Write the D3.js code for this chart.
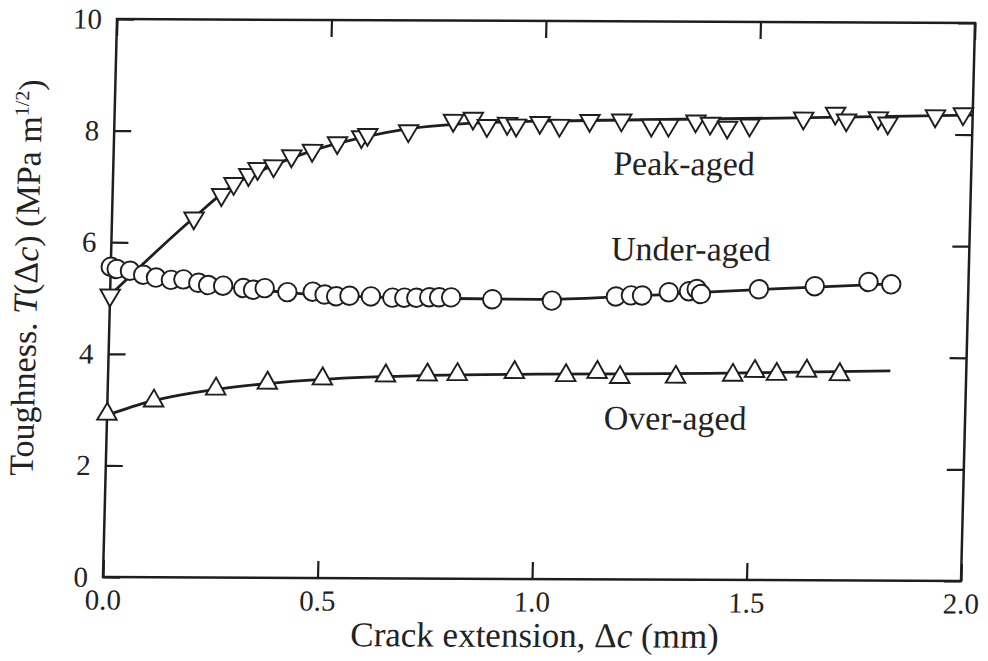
<!DOCTYPE html>
<html>
<head>
<meta charset="utf-8">
<script src="https://cdn.jsdelivr.net/npm/d3@7"></script>
<style>
  body { margin: 0; background: #fff; }
  svg { display: block; }
  text { font-family: "Liberation Serif", "DejaVu Serif", serif; fill: #222; }
</style>
</head>
<body>
<script>
// data (crack extension in mm, toughness in MPa m^1/2)
var peakX = [0.0, 0.191, 0.254, 0.282, 0.316, 0.337, 0.374, 0.415, 0.463, 0.521, 0.577, 0.591, 0.686, 0.790, 0.836, 0.869, 0.916, 0.937, 0.992, 1.038, 1.108, 1.182, 1.252, 1.292, 1.355, 1.389, 1.429, 1.481, 1.606, 1.680, 1.706, 1.780, 1.803, 1.913, 1.978];
var peakY = [5.05, 6.44, 6.86, 7.06, 7.22, 7.33, 7.38, 7.56, 7.66, 7.80, 7.91, 7.95, 8.02, 8.21, 8.25, 8.12, 8.16, 8.13, 8.18, 8.13, 8.22, 8.23, 8.14, 8.14, 8.22, 8.18, 8.11, 8.15, 8.28, 8.37, 8.25, 8.29, 8.20, 8.33, 8.37];

var underX = [0.0, 0.014, 0.045, 0.076, 0.106, 0.141, 0.170, 0.205, 0.228, 0.263, 0.310, 0.333, 0.360, 0.413, 0.472, 0.500, 0.527, 0.558, 0.608, 0.658, 0.686, 0.714, 0.744, 0.767, 0.795, 0.891, 1.030, 1.179, 1.214, 1.240, 1.302, 1.349, 1.367, 1.377, 1.512, 1.642, 1.767, 1.820];
var underY = [5.56, 5.52, 5.49, 5.42, 5.37, 5.33, 5.34, 5.28, 5.24, 5.23, 5.19, 5.16, 5.19, 5.12, 5.13, 5.08, 5.05, 5.06, 5.05, 5.03, 5.03, 5.03, 5.04, 5.04, 5.04, 5.01, 4.99, 5.07, 5.09, 5.09, 5.15, 5.17, 5.21, 5.12, 5.21, 5.27, 5.35, 5.31];

var overX = [0.0, 0.108, 0.252, 0.372, 0.500, 0.647, 0.744, 0.814, 0.947, 1.067, 1.140, 1.193, 1.323, 1.456, 1.507, 1.558, 1.628, 1.705];
var overY = [2.92, 3.16, 3.38, 3.49, 3.57, 3.63, 3.65, 3.66, 3.70, 3.65, 3.71, 3.62, 3.63, 3.67, 3.74, 3.69, 3.75, 3.69];

// smooth fitted curves drawn through the points
var peakFitX = [0.0, 0.19, 0.28, 0.37, 0.46, 0.58, 0.68, 0.85, 1.1, 1.55, 2.0];
var peakFitY = [5.05, 6.44, 7.03, 7.38, 7.65, 7.90, 8.05, 8.17, 8.22, 8.28, 8.35];
var underFitX = [0.0, 0.1, 0.2, 0.3, 0.4, 0.5, 0.6, 0.8, 1.0, 1.2, 1.4, 1.6, 1.82];
var underFitY = [5.55, 5.38, 5.27, 5.19, 5.12, 5.07, 5.04, 5.02, 5.01, 5.07, 5.16, 5.24, 5.32];
var overFitX = [0.0, 0.1, 0.25, 0.37, 0.5, 0.75, 1.0, 1.4, 1.823];
var overFitY = [2.90, 3.15, 3.37, 3.48, 3.56, 3.64, 3.67, 3.70, 3.76];

var xTicks = [0, 0.5, 1.0, 1.5, 2.0];
var yTicks = [0, 2, 4, 6, 8, 10];
var seriesNames = ["Peak-aged", "Under-aged", "Over-aged"];

var svgWidth = 988, svgHeight = 661;
var W = 858, H = 558;
var ink = "#1e1e1e";

var svg = d3.select("body").append("svg")
  .attr("width", svgWidth)
  .attr("height", svgHeight);
svg.append("rect").attr("width", svgWidth).attr("height", svgHeight).attr("fill", "#fff");

// the scan is slightly sheared, so the whole plot lives in one skewed group
var plot = svg.append("g")
  .attr("transform", "matrix(1," + (4 / 860) + "," + (-14 / 558) + ",1,117,19)");

var x = d3.scaleLinear().domain([0, 2]).range([0, W]);
var y = d3.scaleLinear().domain([0, 10]).range([H, 0]);

function styleAxis(g) {
  g.select(".domain").remove();
  g.selectAll(".tick line").attr("stroke", ink).attr("stroke-width", 2.2);
  g.selectAll("text").attr("font-size", "29px").attr("fill", ink);
}

plot.append("g")
  .attr("transform", "translate(0," + H + ")")
  .call(d3.axisBottom(x).tickValues(xTicks).tickSize(-17).tickPadding(12).tickFormat(d3.format(".1f")))
  .call(styleAxis);
plot.append("g")
  .call(d3.axisTop(x).tickValues(xTicks).tickSize(-17).tickFormat(""))
  .call(styleAxis);
plot.append("g")
  .call(d3.axisLeft(y).tickValues(yTicks).tickSize(-17).tickPadding(15).tickFormat(d3.format("d")))
  .call(styleAxis);
plot.append("g")
  .attr("transform", "translate(" + W + ",0)")
  .call(d3.axisRight(y).tickValues(yTicks).tickSize(-17).tickFormat(""))
  .call(styleAxis);

plot.append("rect")
  .attr("width", W).attr("height", H)
  .attr("fill", "none").attr("stroke", ink).attr("stroke-width", 2.5);

// fitted lines
var line = d3.line()
  .x(function(d) { return x(d[0]); })
  .y(function(d) { return y(d[1]); })
  .curve(d3.curveMonotoneX);

var fits = [[peakFitX, peakFitY], [underFitX, underFitY], [overFitX, overFitY]];
fits.forEach(function(f) {
  plot.append("path")
    .attr("d", line(d3.zip(f[0], f[1])))
    .attr("fill", "none")
    .attr("stroke", ink)
    .attr("stroke-width", 2.8);
});

// markers
var tri = d3.symbol().type(d3.symbolTriangle).size(165);
var circ = d3.symbol().type(d3.symbolCircle).size(270);

function drawMarkers(xs, ys, sym, rot) {
  plot.append("g").selectAll("path")
    .data(d3.zip(xs, ys))
    .enter().append("path")
    .attr("d", sym)
    .attr("transform", function(d) {
      return "translate(" + x(d[0]) + "," + y(d[1]) + ")" + (rot ? " rotate(180)" : "");
    })
    .attr("fill", "#fff")
    .attr("stroke", ink)
    .attr("stroke-width", 1.9);
}
drawMarkers(peakX, peakY, tri, true);
drawMarkers(underX, underY, circ, false);
drawMarkers(overX, overY, tri, false);

// series labels
var labelAt = [[1.165, 7.25], [1.165, 5.72], [1.158, 2.69]];
plot.append("g").selectAll("text")
  .data(seriesNames)
  .enter().append("text")
  .attr("x", function(d, i) { return x(labelAt[i][0]); })
  .attr("y", function(d, i) { return y(labelAt[i][1]); })
  .attr("font-size", "34px")
  .text(function(d) { return d; });

// axis titles
var xt = plot.append("text")
  .attr("x", W / 2 + 4)
  .attr("y", H + 68)
  .attr("text-anchor", "middle")
  .attr("font-size", "35px");
xt.append("tspan").text("Crack extension, \u0394");
xt.append("tspan").attr("font-style", "italic").text("c");
xt.append("tspan").text(" (mm)");

var yt = plot.append("text")
  .attr("transform", "translate(-73," + (H / 2 - 20) + ") rotate(-90)")
  .attr("text-anchor", "middle")
  .attr("font-size", "34px");
yt.append("tspan").text("Toughness. ");
yt.append("tspan").attr("font-style", "italic").text("T");
yt.append("tspan").text("(\u0394");
yt.append("tspan").attr("font-style", "italic").text("c");
yt.append("tspan").text(") (MPa m");
yt.append("tspan").attr("font-size", "20px").attr("dy", "-13").text("1/2");
yt.append("tspan").attr("dy", "13").text(")");
</script>
</body>
</html>
